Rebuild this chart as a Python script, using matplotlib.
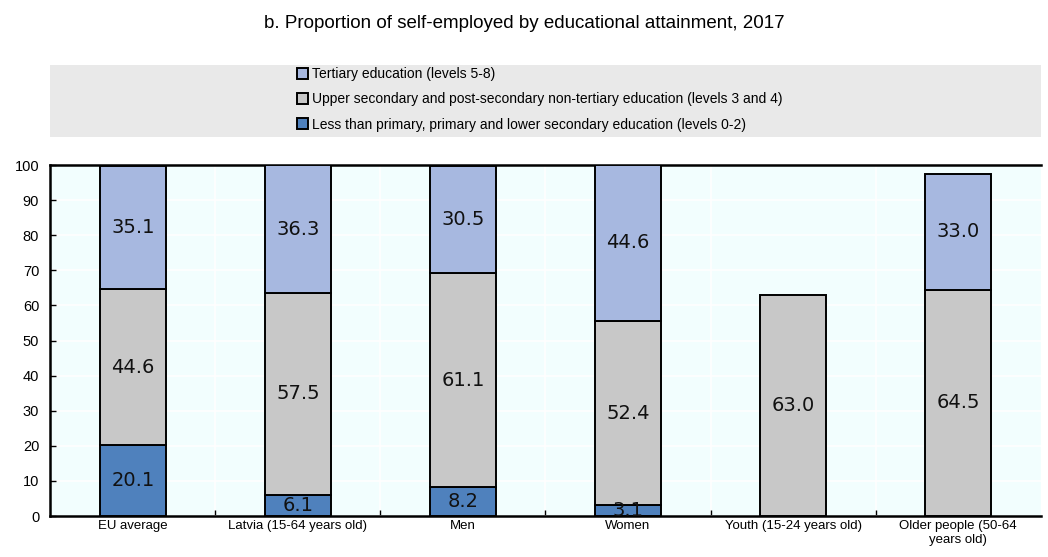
import numpy as np
import matplotlib.pyplot as plt
from matplotlib.patches import Rectangle

plt.rcParams['font.family'] = ['Liberation Sans', 'DejaVu Sans']

categories = ["EU average", "Latvia (15-64 years old)", "Men", "Women",
              "Youth (15-24 years old)", "Older people (50-64\nyears old)"]
low_edu = [20.1, 6.1, 8.2, 3.1, np.nan, np.nan]
mid_edu = [44.6, 57.5, 61.1, 52.4, 63.0, 64.5]
high_edu = [35.1, 36.3, 30.5, 44.6, np.nan, 33.0]

series_names = [
    "Less than primary, primary and lower secondary education (levels 0-2)",
    "Upper secondary and post-secondary non-tertiary education (levels 3 and 4)",
    "Tertiary education (levels 5-8)",
]
colors = ["#4F81BD", "#C8C8C8", "#A7B8E0"]

fig = plt.figure(figsize=(10.48, 5.57), dpi=100)
ax = fig.add_axes([0.048, 0.0736, 0.945, 0.630])
ax.set_facecolor("#F2FEFE")

x = np.arange(len(categories))
width = 0.40
bottom = np.zeros(len(categories))
bars = []
for vals, col, name in zip([low_edu, mid_edu, high_edu], colors, series_names):
    v = np.array(vals, dtype=float)
    h = np.nan_to_num(v)
    b = ax.bar(x, h, width, bottom=bottom, color=col, edgecolor="black",
               linewidth=1.4, label=name, zorder=3)
    for i, (vi, bi) in enumerate(zip(v, bottom)):
        if np.isnan(vi):
            b[i].set_visible(False)
            continue
        ax.text(x[i], bi + vi / 2, f"{vi:.1f}", ha="center", va="center",
                fontsize=14, family="DejaVu Sans", color="#111111",
                zorder=6, clip_on=False)
    bars.append(b)
    bottom = bottom + h

ax.set_xlim(-0.5, len(categories) - 0.5)
ax.set_ylim(0, 100)
ax.set_yticks(np.arange(0, 101, 10))
ax.set_xticks(x)
ax.set_xticklabels(categories, fontsize=9.5, linespacing=1.2)
ax.set_xticks(np.arange(0.5, len(categories) - 1, 1), minor=True)
ax.tick_params(axis="x", which="major", length=0, pad=3)
ax.tick_params(axis="x", which="minor", direction="in", length=4, width=1)
ax.tick_params(axis="y", direction="in", length=4, width=1, labelsize=10.5, pad=8)

ax.grid(axis="y", color="white", linewidth=1.2, zorder=0)
ax.grid(axis="x", which="minor", color="white", linewidth=1.2, zorder=0)
ax.set_axisbelow(True)

for side in ["left", "bottom", "top"]:
    ax.spines[side].set_linewidth(1.8)
ax.spines["right"].set_visible(False)

fig.text(0.5, 0.958, "b. Proportion of self-employed by educational attainment, 2017",
         ha="center", va="center", fontsize=13.5)

# legend band above the plot
fig.patches.append(Rectangle((0.048, 0.754), 0.945, 0.130, transform=fig.transFigure,
                             facecolor="#E9E9E9", edgecolor="none", zorder=0))
handles = [bars[2], bars[1], bars[0]]
labels = [series_names[2], series_names[1], series_names[0]]
fig.legend(handles, labels, loc="upper left", bbox_to_anchor=(0.278, 0.889),
           frameon=False, fontsize=10, handlelength=0.8, handleheight=0.8,
           handletextpad=0.3, labelspacing=0.8, borderaxespad=0)

fig.savefig("out.png", dpi=100)
